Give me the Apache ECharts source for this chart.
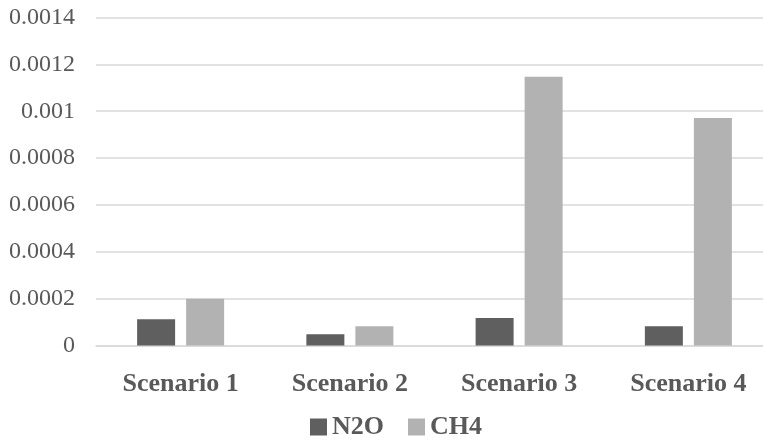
<!DOCTYPE html>
<html>
<head>
<meta charset="utf-8">
<script src="https://cdn.jsdelivr.net/npm/echarts@6/dist/echarts.min.js"></script>
<style>html,body{margin:0;padding:0;background:#fff}#c{width:763px;height:443px}</style>
</head>
<body>
<div id="c"></div>
<script>
const categories = ['Scenario 1', 'Scenario 2', 'Scenario 3', 'Scenario 4'];
const n2o = [0.000112, 0.000048, 0.000117, 0.0000825];
const ch4 = [0.0002, 0.0000825, 0.001147, 0.000971];
const yTicks = [0, 0.0002, 0.0004, 0.0006, 0.0008, 0.001, 0.0012, 0.0014];

const chart = echarts.init(document.getElementById('c'), null, {renderer: 'canvas'});
const font = '"Liberation Serif", "Times New Roman", serif';
chart.setOption({
  animation: false,
  backgroundColor: '#ffffff',
  grid: {left: 96, top: 17.5, width: 677, height: 328, containLabel: false, outerBoundsMode: 'none'},
  legend: {
    data: ['N2O', 'CH4'],
    left: 310, top: 414, padding: 0,
    itemWidth: 17, itemHeight: 17, itemGap: 24,
    icon: 'rect',
    textStyle: {fontFamily: font, fontSize: 26, fontWeight: 'bold', color: '#595959'}
  },
  xAxis: {
    type: 'category',
    data: categories,
    axisTick: {show: false},
    axisLine: {lineStyle: {color: '#d9d9d9', width: 1.5}},
    axisLabel: {fontFamily: font, fontSize: 26, fontWeight: 'bold', color: '#595959', margin: 26}
  },
  yAxis: {
    type: 'value',
    min: 0, max: 0.0014, interval: 0.0002,
    axisLine: {show: false},
    axisTick: {show: false},
    splitLine: {lineStyle: {color: '#d9d9d9', width: 1.5}},
    axisLabel: {
      fontFamily: font, fontSize: 24, color: '#595959', margin: 21,
      formatter: v => { const t = yTicks.find(x => Math.abs(x - v) < 1e-9); return String(+(t !== undefined ? t : v).toPrecision(6)); }
    }
  },
  series: [
    {name: 'N2O', type: 'bar', data: n2o, barWidth: 38, barGap: '29%', itemStyle: {color: '#5f5f5f'}},
    {name: 'CH4', type: 'bar', data: ch4, barWidth: 38, barGap: '29%', itemStyle: {color: '#b2b2b2'}}
  ]
});
</script>
</body>
</html>
